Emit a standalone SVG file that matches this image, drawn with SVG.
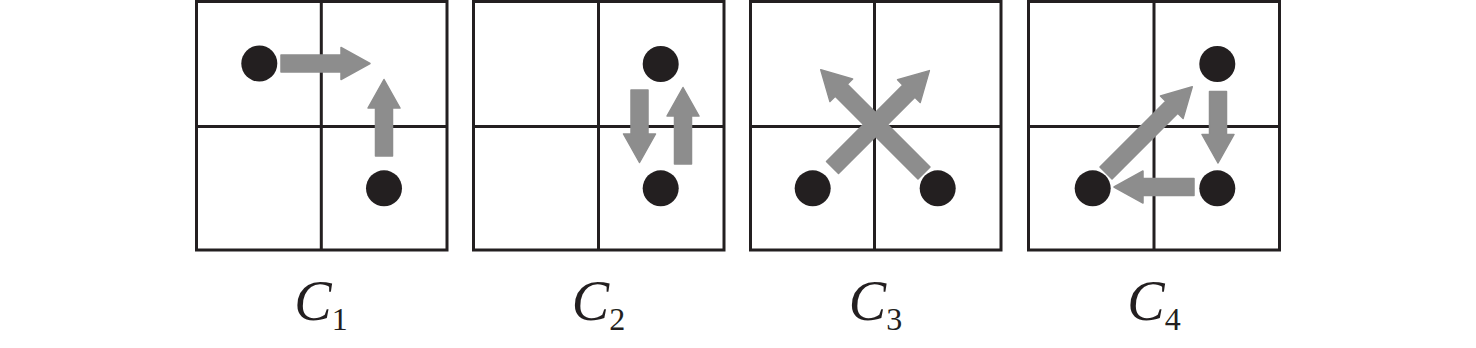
<svg xmlns="http://www.w3.org/2000/svg" width="1476" height="348" viewBox="0 0 1476 348">
<style>
.grid{fill:none;stroke:#231f20;stroke-width:3}
.dot{fill:#231f20}
.arr{fill:#8d8d8d;stroke:#8d8d8d;stroke-width:1.5;stroke-linejoin:round}
.lbl{font-family:"Liberation Serif","Times New Roman",serif;font-style:italic;font-size:56px;fill:#231f20}
.sub{font-style:normal;font-size:32px}
</style>
<rect width="1476" height="348" fill="#fff"/>
<g id="panel1">
<rect class="grid" x="196.5" y="1.5" width="250.5" height="248.5"/>
<path class="grid" d="M321.3,1.5V250M196.5,126.5H447"/>
<text class="lbl" x="321" y="320" text-anchor="middle">C<tspan class="sub" dy="10">1</tspan></text>
</g>
<g id="panel2">
<rect class="grid" x="473.5" y="1.5" width="250.5" height="248.5"/>
<path class="grid" d="M598.5,1.5V250M473.5,126.5H724"/>
<text class="lbl" x="598.5" y="320" text-anchor="middle">C<tspan class="sub" dy="10">2</tspan></text>
</g>
<g id="panel3">
<rect class="grid" x="750.5" y="1.5" width="250.5" height="248.5"/>
<path class="grid" d="M874.5,1.5V250M750.5,126.5H1001"/>
<text class="lbl" x="875.5" y="320" text-anchor="middle">C<tspan class="sub" dy="10">3</tspan></text>
</g>
<g id="panel4">
<rect class="grid" x="1028.5" y="1.5" width="251" height="248.5"/>
<path class="grid" d="M1154,1.5V250M1028.5,126.5H1279.5"/>
<text class="lbl" x="1154" y="320" text-anchor="middle">C<tspan class="sub" dy="10">4</tspan></text>
</g>
<g id="connectors">
<path class="arr" transform="translate(281,63.5)" d="M0,-8.5H60V-16L89,0L60,16V8.5H0Z"/>
<path class="arr" transform="translate(384,156) rotate(-90)" d="M0,-8.5H48V-16L76.5,0L48,16V8.5H0Z"/>
<path class="arr" transform="translate(639.5,90) rotate(90)" d="M0,-8.5H44V-16L72.5,0L44,16V8.5H0Z"/>
<path class="arr" transform="translate(683,164) rotate(-90)" d="M0,-8.5H48V-16L76.5,0L48,16V8.5H0Z"/>
<path class="arr" transform="translate(832.5,167.5) rotate(-45)" d="M0,-8.5H108V-16L137,0L108,16V8.5H0Z"/>
<path class="arr" transform="translate(924,173) rotate(-135)" d="M0,-8.5H117V-16L146,0L117,16V8.5H0Z"/>
<path class="arr" transform="translate(1106,173) rotate(-45)" d="M0,-8.5H93V-16L122,0L93,16V8.5H0Z"/>
<path class="arr" transform="translate(1218,91.5) rotate(90)" d="M0,-8.5H43V-16L71.5,0L43,16V8.5H0Z"/>
<path class="arr" transform="translate(1194,187) rotate(180)" d="M0,-8.5H51V-16L80,0L51,16V8.5H0Z"/>
</g>
<g id="nodes">
<g id="n1a"><circle class="dot" cx="259.3" cy="63.5" r="18"/></g>
<g id="n1b"><circle class="dot" cx="384" cy="188.3" r="18"/></g>
<g id="n2a"><circle class="dot" cx="660.7" cy="64" r="18"/></g>
<g id="n2b"><circle class="dot" cx="660.7" cy="188.3" r="18"/></g>
<g id="n3a"><circle class="dot" cx="812.7" cy="188.3" r="18"/></g>
<g id="n3b"><circle class="dot" cx="937.7" cy="188.3" r="18"/></g>
<g id="n4a"><circle class="dot" cx="1217.3" cy="64" r="18"/></g>
<g id="n4b"><circle class="dot" cx="1092.7" cy="188.3" r="18"/></g>
<g id="n4c"><circle class="dot" cx="1217.3" cy="188.3" r="18"/></g>
</g>
</svg>
